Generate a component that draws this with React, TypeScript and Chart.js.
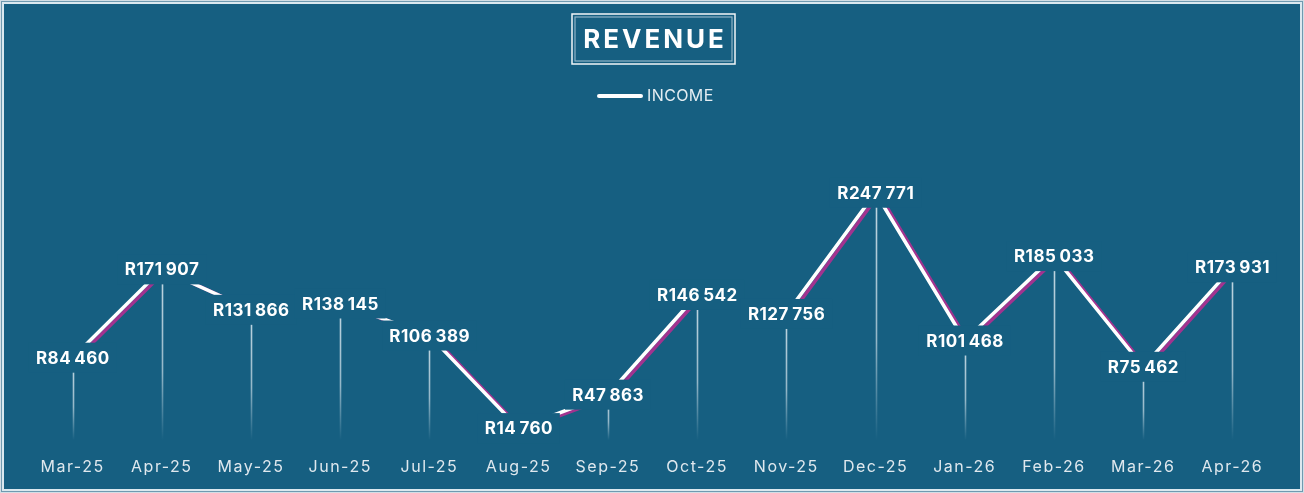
import React, { useEffect, useRef } from "react";
import { Chart, registerables } from "chart.js";

Chart.register(...registerables);

const categories = ["Mar-25", "Apr-25", "May-25", "Jun-25", "Jul-25", "Aug-25", "Sep-25", "Oct-25", "Nov-25", "Dec-25", "Jan-26", "Feb-26", "Mar-26", "Apr-26"];
const income = [84460, 171907, 131866, 138145, 106389, 14760, 47863, 146542, 127756, 247771, 101468, 185033, 75462, 173931];
const seriesName = "INCOME";
const chartTitle = "REVENUE";
const yMin = 0;
const yMax = 300000;

const BG = "#165f81";
const FONT = "Inter, 'Open Sans', 'Noto Sans', sans-serif";

function fmt(v: number): string {
  const s = Math.round(v).toString();
  return "R" + s.replace(/\B(?=(\d{3})+(?!\d))/g, "\u2009");
}

const decorPlugin = {
  id: "decor",
  beforeDraw(chart: any) {
    const ctx = chart.ctx as CanvasRenderingContext2D;
    const W = chart.width;
    const H = chart.height;
    ctx.save();
    ctx.fillStyle = BG;
    ctx.fillRect(0, 0, W, H);
    // outer frame
    ctx.fillStyle = "#d3dee5";
    ctx.fillRect(0, 0, W, 1);
    ctx.fillRect(0, 0, 1, H);
    ctx.fillRect(0, H - 1, W, 1);
    ctx.fillRect(W - 1, 0, 1, H);
    ctx.strokeStyle = "#6f9ab0";
    ctx.lineWidth = 1;
    ctx.strokeRect(1.5, 1.5, W - 3, H - 3);
    ctx.strokeStyle = "#dbe8ef";
    ctx.lineWidth = 2;
    ctx.strokeRect(3, 3, W - 6, H - 6);

    // title box
    const cx = W / 2 + 1.5;
    ctx.font = `bold 26px ${FONT}`;
    (ctx as any).letterSpacing = "3px";
    ctx.textAlign = "center";
    ctx.textBaseline = "middle";
    ctx.fillStyle = "#ffffff";
    ctx.fillText(chartTitle, cx + 1.5, 40);
    (ctx as any).letterSpacing = "0px";
    ctx.strokeStyle = "#f2f6f8";
    ctx.lineWidth = 1.5;
    ctx.strokeRect(572, 14, 163, 50);
    ctx.strokeStyle = "#8fb4c8";
    ctx.lineWidth = 1.2;
    ctx.strokeRect(575, 17, 157, 44);

    // legend
    const ds = chart.data.datasets[0];
    ctx.strokeStyle = "#ffffff";
    ctx.lineWidth = 4;
    ctx.lineCap = "round";
    ctx.beginPath();
    ctx.moveTo(599, 96);
    ctx.lineTo(641, 96);
    ctx.stroke();
    ctx.font = `16px ${FONT}`;
    (ctx as any).letterSpacing = "0.4px";
    ctx.textAlign = "left";
    ctx.fillStyle = "#e4edf2";
    ctx.fillText(ds.label, 647, 96);
    ctx.restore();
    (ctx as any).letterSpacing = "1.5px";
  },
  beforeDatasetsDraw(chart: any) {
    const ctx = chart.ctx as CanvasRenderingContext2D;
    const meta = chart.getDatasetMeta(0);
    const bottom = chart.chartArea.bottom - 3;
    ctx.save();
    (ctx as any).letterSpacing = "0px";
    ctx.lineWidth = 1.6;
    meta.data.forEach((pt: any) => {
      const g = ctx.createLinearGradient(0, pt.y, 0, bottom);
      g.addColorStop(0, "rgba(215,230,238,0.9)");
      g.addColorStop(0.6, "rgba(215,230,238,0.65)");
      g.addColorStop(1, "rgba(215,230,238,0)");
      ctx.strokeStyle = g;
      ctx.beginPath();
      ctx.moveTo(Math.round(pt.x) + 0.5, pt.y);
      ctx.lineTo(Math.round(pt.x) + 0.5, bottom);
      ctx.stroke();
    });
    ctx.restore();
  },
  beforeDatasetDraw(chart: any) {
    const ctx = chart.ctx as CanvasRenderingContext2D;
    ctx.save();
    ctx.shadowColor = "#a2338f";
    ctx.shadowOffsetX = 3.5;
    ctx.shadowOffsetY = 1.5;
    ctx.shadowBlur = 0;
  },
  afterDatasetDraw(chart: any) {
    chart.ctx.restore();
  },
  afterDatasetsDraw(chart: any) {
    const ctx = chart.ctx as CanvasRenderingContext2D;
    const meta = chart.getDatasetMeta(0);
    const data = chart.data.datasets[0].data as number[];
    ctx.save();
    (ctx as any).letterSpacing = "0.5px";
    ctx.font = `bold 17px ${FONT}`;
    ctx.textAlign = "center";
    ctx.textBaseline = "middle";
    meta.data.forEach((pt: any, i: number) => {
      const t = fmt(data[i]);
      const w = ctx.measureText(t).width;
      ctx.fillStyle = BG;
      ctx.fillRect(pt.x - w / 2 - 7, pt.y - 15, w + 14, 30);
    });
    meta.data.forEach((pt: any, i: number) => {
      const t = fmt(data[i]);
      ctx.fillStyle = "#ffffff";
      ctx.fillText(t, pt.x + 0.25, pt.y + 1);
    });
    ctx.restore();
  },
};

export default function App() {
  const ref = useRef<HTMLCanvasElement | null>(null);
  useEffect(() => {
    document.body.style.margin = "0";
    const canvas = ref.current;
    if (!canvas) return;
    const chart = new Chart(canvas, {
      type: "line",
      data: {
        labels: categories,
        datasets: [
          {
            label: seriesName,
            data: income,
            borderColor: "#ffffff",
            borderWidth: 3.5,
            pointRadius: 0,
            pointHoverRadius: 0,
            tension: 0,
            fill: false,
          },
        ],
      },
      options: {
        responsive: false,
        animation: false,
        devicePixelRatio: 1,
        layout: { padding: { left: 28, right: 27, top: 140, bottom: 0 } },
        events: [],
        scales: {
          x: {
            offset: true,
            grid: { display: false, drawTicks: false },
            border: { display: false },
            ticks: {
              color: "#dfe8ee",
              font: { family: FONT, size: 16 },
              padding: 15,
              maxRotation: 0,
              autoSkip: false,
            },
            afterFit(scale: any) {
              scale.height = 50;
            },
          },
          y: { display: false, min: yMin, max: yMax },
        },
        plugins: {
          legend: { display: false },
          title: { display: false },
          tooltip: { enabled: false },
        },
      },
      plugins: [decorPlugin],
    });
    return () => chart.destroy();
  }, []);
  return (
    <div style={{ width: 1304, height: 493 }}>
      <canvas ref={ref} width={1304} height={493} style={{ display: "block" }} />
    </div>
  );
}
